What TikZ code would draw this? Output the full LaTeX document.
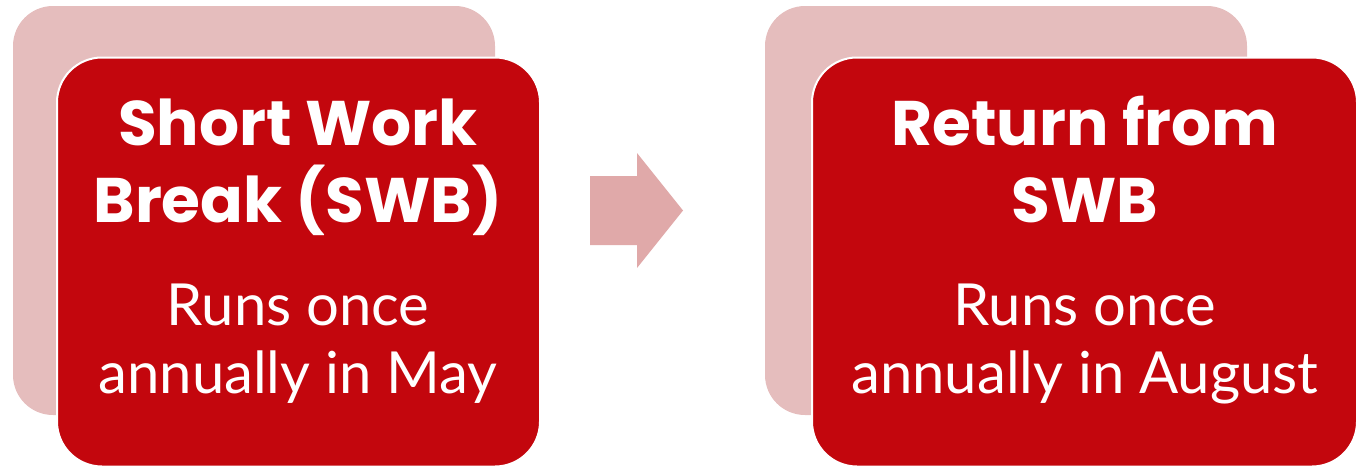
\documentclass[tikz,border=0pt]{standalone}
\usepackage{fontspec}
\setmainfont{Lato}
\newfontfamily\headfont{Poppins}
\usetikzlibrary{positioning}
\definecolor{swbred}{HTML}{C3060D}
\definecolor{swbpink}{HTML}{E5BDBD}
\definecolor{arrowpink}{HTML}{E0A9A9}
\begin{document}
\begin{tikzpicture}[x=1pt,y=-1pt,
  backcard/.style={fill=swbpink,rounded corners=40pt,inner sep=0pt},
  frontcard/.style={fill=swbred,draw=white,line width=2pt,rounded corners=45pt,inner sep=0pt},
  headtext/.style={text=white,align=center,anchor=base,font=\headfont\fontsize{63}{77}\selectfont\bfseries},
  bodytext/.style={text=white,align=center,anchor=base,font=\fontsize{58}{68}\selectfont}]
\useasboundingbox (0,0) rectangle (1357,466);
\node[backcard,minimum width=482pt,minimum height=409pt] (back1) at (254,210.5) {};
\node[frontcard,minimum width=483pt,minimum height=409pt] (card1) at (298.5,262) {};
\node[headtext] (head1) at (298,222) {Short Work\\Break (SWB)};
\node[bodytext] (body1) at (298,393) {Runs once\\annually in May};
\node[backcard,minimum width=482pt,minimum height=409pt] (back2) at (1006,210.5) {};
\node[frontcard,minimum width=545pt,minimum height=409pt] (card2) at (1084.5,262) {};
\node[headtext] (head2) at (1085,222) {Return from\\SWB};
\node[bodytext] (body2) at (1085,393) {Runs once\\annually in August};
\fill[arrowpink] (590,176) -- (637,176) -- (637,153) -- (683,210.5) -- (637,268) -- (637,245) -- (590,245) -- cycle;
\end{tikzpicture}
\end{document}
